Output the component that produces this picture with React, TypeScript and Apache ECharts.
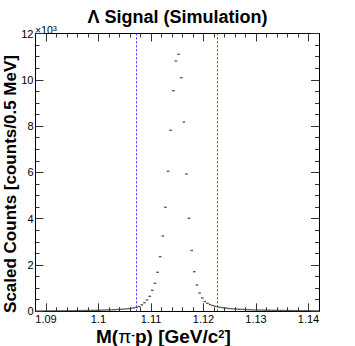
import React, { useEffect, useRef } from "react";
import * as echarts from "echarts";

const FONT = '"Liberation Sans", Arial, Helvetica, sans-serif';

// Histogram binning (0.5 MeV bins from 1.088 to 1.142 GeV)
const binStart = 1.088;
const binWidth = 0.0005;

// Counts per bin
const counts: number[] = [
  12, 13, 14, 15, 16, 17, 18, 19, 20, 21,
  22, 23, 24, 25, 27, 28, 30, 31, 33, 35,
  37, 39, 42, 45, 48, 51, 55, 59, 63, 68,
  73, 79, 86, 94, 104, 116, 130, 148, 172, 205,
  280, 371, 488, 648, 907, 1209, 1685, 2359, 3253, 4492,
  6048, 7819, 9529, 10812, 11102, 10091, 8177, 5931, 4017, 2626,
  1711, 1136, 790, 575, 423, 345, 290, 248, 215, 190,
  168, 151, 137, 125, 114, 105, 97, 90, 84, 78,
  73, 68, 64, 60, 57, 54, 51, 48, 46, 44,
  42, 40, 38, 36, 35, 33, 32, 31, 30, 29,
  28, 27, 26, 25, 24, 24, 23, 22,
];

// Signal window boundaries
const windowLines = [1.1072, 1.1226];

// Tick values
const xMajorTicks = [1.09, 1.1, 1.11, 1.12, 1.13, 1.14];
const xMinorTicks = [
  1.092, 1.094, 1.096, 1.098, 1.102, 1.104, 1.106, 1.108, 1.112, 1.114,
  1.116, 1.118, 1.122, 1.124, 1.126, 1.128, 1.132, 1.134, 1.136, 1.138, 1.14,
];
const xMin = 1.088;
const xMax = 1.142;
const yMin = 0;
const yMax = 12000;
const yInterval = 2000;

export default function App() {
  const ref = useRef<HTMLDivElement>(null);

  useEffect(() => {
    if (!ref.current) return;
    const chart = echarts.init(ref.current, undefined, { renderer: "svg" });

    const data = counts.map((c, i) => [binStart + binWidth * (i + 0.5), c]);

    const tickColor = "#333";
    const xAxisBase = (position: "top" | "bottom", major: boolean, labels: boolean) => ({
      type: "value" as const,
      position,
      min: xMin,
      max: xMax,
      axisLine: { show: major, onZero: false, lineStyle: { color: "#000", width: 1 } },
      axisTick: {
        show: true,
        inside: true,
        length: major ? 8 : 4,
        customValues: major ? xMajorTicks : xMinorTicks,
        lineStyle: { color: tickColor, width: 1 },
      },
      axisLabel: labels
        ? {
            show: true,
            customValues: xMajorTicks,
            formatter: (v: number) => String(+v.toFixed(3)),
            fontSize: 11,
            color: "#000",
            fontFamily: FONT,
            margin: 2,
          }
        : { show: false },
      splitLine: { show: false },
    });

    const yAxisBase = (position: "left" | "right", labels: boolean) => ({
      type: "value" as const,
      position,
      min: yMin,
      max: yMax,
      interval: yInterval,
      axisLine: { show: true, onZero: false, lineStyle: { color: "#000", width: 1 } },
      axisTick: { show: true, inside: true, length: 8, lineStyle: { color: tickColor, width: 1 } },
      minorTick: { show: true, splitNumber: 4, length: 4, lineStyle: { color: tickColor, width: 1 } },
      axisLabel: labels
        ? {
            show: true,
            formatter: (v: number) => String(v / 1000),
            fontSize: 11,
            color: "#000",
            fontFamily: FONT,
            margin: 2,
          }
        : { show: false },
      splitLine: { show: false },
    });

    chart.setOption({
      animation: false,
      backgroundColor: "#fff",
      title: {
        text: "Λ Signal (Simulation)",
        left: "center",
        top: 3,
        textStyle: { fontSize: 18, fontWeight: "bold", color: "#000", fontFamily: FONT },
      },
      grid: { left: 35.5, top: 33.5, width: 283.5, height: 277.8, containLabel: false },
      xAxis: [
        xAxisBase("bottom", true, true),
        xAxisBase("bottom", false, false),
        xAxisBase("top", true, false),
        xAxisBase("top", false, false),
      ],
      yAxis: [yAxisBase("left", true), yAxisBase("right", false)],
      series: [
        {
          type: "scatter",
          xAxisIndex: 0,
          yAxisIndex: 0,
          data,
          symbol: "rect",
          symbolSize: [2.6, 1.4],
          itemStyle: { color: "#333" },
          silent: true,
          markLine: {
            silent: true,
            precision: 6,
            symbol: ["none", "none"],
            label: { show: false },
            lineStyle: { type: [2, 2], color: "#2a3cff", width: 1 },
            data: windowLines.map((v) => ({ xAxis: v })),
          },
        },
      ],
      graphic: [
        {
          type: "text",
          x: 35,
          y: 24,
          style: {
            text: "{a|×10}{s|3}",
            rich: {
              a: { fontSize: 10.5, fontFamily: FONT, fill: "#000", lineHeight: 12 },
              s: { fontSize: 7.5, fontFamily: FONT, fill: "#000", verticalAlign: "top", lineHeight: 6 },
            },
          },
        },
        {
          type: "text",
          x: 96,
          y: 336,
          style: {
            text: "{b|M(}{p|π}{s|-}{b|p) [GeV/c}{s|2}{b|]}",
            textVerticalAlign: "middle",
            rich: {
              b: { fontSize: 19, fontWeight: "bold", fontFamily: FONT, fill: "#000", lineHeight: 16 },
              p: { fontSize: 19, fontFamily: FONT, fill: "#000", lineHeight: 16 },
              s: { fontSize: 11, fontWeight: "bold", fontFamily: FONT, fill: "#000", lineHeight: 2, verticalAlign: "top" },
            },
          },
        },
        {
          type: "text",
          x: 10.5,
          y: 184,
          rotation: Math.PI / 2,
          style: {
            text: "Scaled Counts [counts/0.5 MeV]",
            fontSize: 17,
            fontWeight: "bold",
            fontFamily: FONT,
            fill: "#000",
            textAlign: "center",
            textVerticalAlign: "middle",
          },
        },
      ],
    });

    return () => chart.dispose();
  }, []);

  return (
    <div
      ref={ref}
      style={{ position: "fixed", left: 0, top: 0, width: 355, height: 346, background: "#fff" }}
    />
  );
}
